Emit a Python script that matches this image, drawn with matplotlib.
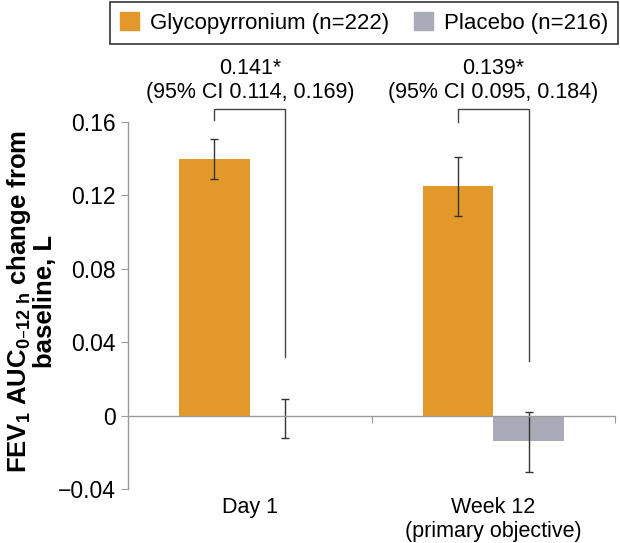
import numpy as np
import matplotlib.pyplot as plt
from matplotlib.patches import Patch

plt.rcParams['font.family'] = ['Liberation Sans', 'DejaVu Sans']

categories = ['Day 1', 'Week 12\n(primary objective)']
glyco = [0.140, 0.125]
glyco_lo = [0.129, 0.109]
glyco_hi = [0.151, 0.141]
placebo = [-0.001, -0.014]
placebo_lo = [-0.012, -0.031]
placebo_hi = [0.009, 0.002]
diff_text = ['0.141*\n(95% CI 0.114, 0.169)', '0.139*\n(95% CI 0.095, 0.184)']
bracket_top = [0.167, 0.167]
bracket_left_end = [0.161, 0.160]
bracket_right_end = [0.032, 0.030]

orange = '#E3992A'
grey = '#A9ABB8'
axcol = '#9a9a9a'

fig = plt.figure(figsize=(6.2, 5.43), dpi=100)
ax = fig.add_axes([128/620, 1-489/543, (615-128)/620, (489-122)/543])

x = np.arange(len(categories))
w = 0.29
ax.bar(x - w/2, glyco, w, color=orange)
ax.bar(x + w/2, placebo, w, color=grey)
g = np.array(glyco)
p = np.array(placebo)
ax.errorbar(x - w/2, g, yerr=[g - np.array(glyco_lo), np.array(glyco_hi) - g],
            fmt='none', ecolor='#333333', elinewidth=1, capsize=3, capthick=1)
ax.errorbar(x + w/2, p, yerr=[p - np.array(placebo_lo), np.array(placebo_hi) - p],
            fmt='none', ecolor='#333333', elinewidth=1, capsize=3, capthick=1)

# brackets and difference labels
for i in range(len(categories)):
    xl, xr = x[i] - w/2, x[i] + w/2
    ax.plot([xl, xl, xr, xr], [bracket_left_end[i], bracket_top[i], bracket_top[i], bracket_right_end[i]],
            color='#444444', lw=1, clip_on=False)
    ax.text(x[i], 0.1705, diff_text[i], ha='center', va='bottom', fontsize=15.5,
            linespacing=1.2, clip_on=False)
    ax.text(x[i], -0.0445, categories[i], ha='center', va='top', fontsize=15.5, linespacing=1.2)

ax.set_xlim(-0.5, 1.5)
ax.set_ylim(-0.04, 0.16)
ax.set_yticks([-0.04, 0, 0.04, 0.08, 0.12, 0.16])
ax.set_yticklabels(['\u22120.04', '0', '0.04', '0.08', '0.12', '0.16'], fontsize=16.5)
ax.set_xticks([0.5, 1.5])
ax.set_xticklabels([])
ax.spines['top'].set_visible(False)
ax.spines['right'].set_visible(False)
ax.spines['bottom'].set_position(('data', 0))
for s in ['left', 'bottom']:
    ax.spines[s].set_color(axcol)
    ax.spines[s].set_linewidth(1)
ax.tick_params(axis='y', colors=axcol, labelcolor='black', length=5, pad=4)
ax.tick_params(axis='x', colors=axcol, length=5, direction='out')

ax.set_ylabel('FEV$_\\mathregular{1}$ AUC$_{\\mathregular{0\u201312\\ h}}$ change from\nbaseline, L',
              fontsize=18.5, fontweight='bold', linespacing=1.0)
ax.yaxis.set_label_coords(-0.146, 0.51)

handles = [Patch(color=orange), Patch(color=grey)]
leg = fig.legend(handles, ['Glycopyrronium (n=222)', 'Placebo (n=216)'], ncol=2,
                 loc='upper right', bbox_to_anchor=(618/620, 1-2/543), fontsize=16,
                 frameon=True, fancybox=False, edgecolor='black', handlelength=0.85,
                 handleheight=0.85, handletextpad=0.5, columnspacing=1.1,
                 borderpad=0.45, borderaxespad=0)
leg.get_frame().set_linewidth(1.2)

fig.savefig('out.png', dpi=100)
